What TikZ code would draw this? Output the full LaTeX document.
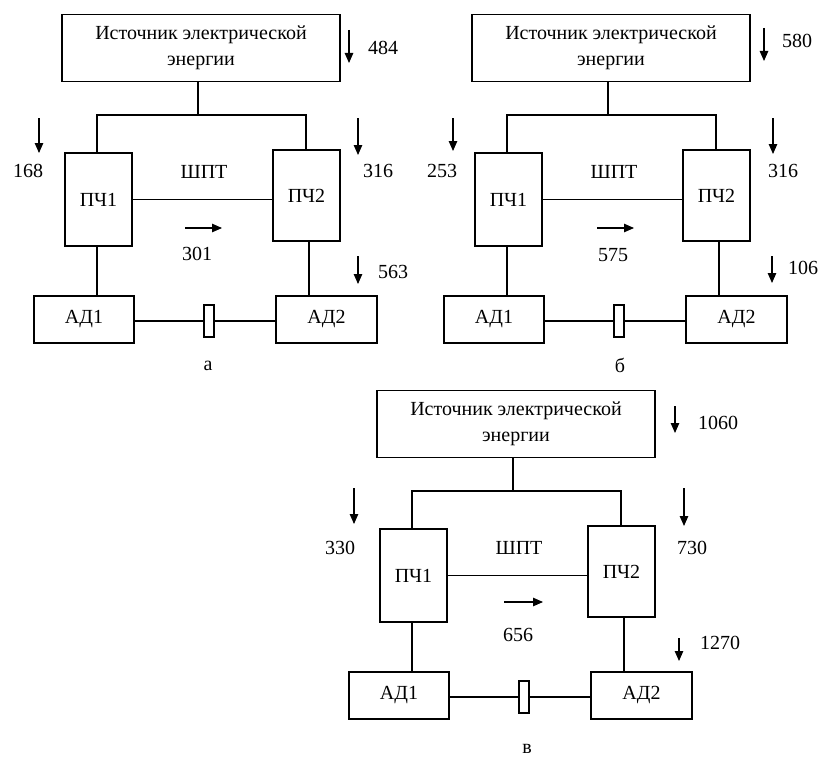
\documentclass[tikz,border=0pt]{standalone}
\usepackage{fontspec}
\setmainfont{Liberation Serif}
\usetikzlibrary{arrows.meta}

\tikzset{
  box/.style={draw, line width=1.4pt, inner sep=0pt, align=center,
    font=\fontsize{20}{26}\selectfont},
  wire/.style={line width=1.4pt},
  coupling/.style={draw, fill=white, line width=1.4pt, inner sep=0pt,
    minimum width=10pt, minimum height=32pt},
  flow/.style={line width=1.1pt, -{Triangle[length=10pt,width=8.5pt]}},
  val/.style={inner sep=0pt, font=\fontsize{20}{24}\selectfont},
}

% one block scheme: source, two converters on a DC bus, two motors on a shaft
\newcommand\drawscheme[2]{%
  \begin{scope}[shift={#1}]
    \node[box, minimum width=278pt, minimum height=67pt] (#2src) at (201,48)
      {Источник электрической\\энергии};
    \node[box, minimum width=67pt, minimum height=93pt] (#2pa) at (98.5,199.5) {ПЧ1};
    \node[box, minimum width=67pt, minimum height=91pt] (#2pb) at (306.5,195.5) {ПЧ2};
    \node[box, minimum width=100pt, minimum height=47pt] (#2ma) at (84,319.5) {АД1};
    \node[box, minimum width=101pt, minimum height=47pt] (#2mb) at (326.5,319.5) {АД2};
    \coordinate (#2tap) at (198,115);
    \coordinate (#2l) at (97,115);
    \coordinate (#2r) at (306,115);
    \coordinate (#2da) at (97,300);
    \coordinate (#2db) at (309,300);
    \coordinate (#2sh) at (209,321);
    \draw[wire] (#2src.south -| #2tap) -- (#2tap);
    \draw[wire] (#2l |- #2pa.north) -- (#2l) -- (#2r) -- (#2r |- #2pb.north);
    \draw[wire] (#2pa.east) -- (#2pa.east -| #2pb.west);
    \draw[wire] (#2pa.south -| #2da) -- (#2ma.north -| #2da);
    \draw[wire] (#2pb.south -| #2db) -- (#2mb.north -| #2db);
    \draw[wire] (#2ma.east |- #2sh) -- (#2mb.west |- #2sh);
    \node[coupling] (#2cp) at (#2sh) {};
    \node[val] (#2bus) at (204,172) {ШПТ};
  \end{scope}}

% power-flow arrow between two named points
\newcommand\flowarrow[3]{%
  \coordinate (#1s) at #2;
  \coordinate (#1e) at #3;
  \draw[flow] (#1s) -- (#1e);}

\begin{document}
\begin{tikzpicture}[x=1pt, y=-1pt]
  \useasboundingbox[fill=white] (0,0) rectangle (822,760);

  \drawscheme{(0,0)}{a}
  \drawscheme{(410,0)}{b}
  \drawscheme{(315,376)}{c}

  % scheme а
  \flowarrow{aw}{(349,30)}{(349,63)}   \node[val] (awv) at (383,48) {484};
  \flowarrow{al}{(39,118)}{(39,153)}   \node[val] (alv) at (28,171) {168};
  \flowarrow{ar}{(358,118)}{(358,155)} \node[val] (arv) at (378,171) {316};
  \flowarrow{ab}{(185,228)}{(222,228)} \node[val] (abv) at (197,254) {301};
  \flowarrow{am}{(358,256)}{(358,284)} \node[val] (amv) at (393,272) {563};
  \node[val] (acap) at (208,366) {а};

  % scheme б
  \flowarrow{bw}{(764,28)}{(764,61)}  \node[val] (bwv) at (797,41) {580};
  \flowarrow{bl}{(453,118)}{(453,151)} \node[val] (blv) at (442,171) {253};
  \flowarrow{br}{(773,118)}{(773,154)} \node[val] (brv) at (783,171) {316};
  \flowarrow{bb}{(597,228)}{(634,228)} \node[val] (bbv) at (613,255) {575};
  \flowarrow{bm}{(772,256)}{(772,283)} \node[val] (bmv) at (803,268) {106};
  \node[val] (bcap) at (620,365) {б};

  % scheme в
  \flowarrow{cw}{(675,406)}{(675,433)} \node[val] (cwv) at (718,423) {1060};
  \flowarrow{cl}{(354,488)}{(354,524)} \node[val] (clv) at (340,548) {330};
  \flowarrow{cr}{(684,488)}{(684,526)} \node[val] (crv) at (692,548) {730};
  \flowarrow{cb}{(504,602)}{(543,602)} \node[val] (cbv) at (518,635) {656};
  \flowarrow{cm}{(679,638)}{(679,661)} \node[val] (cmv) at (720,643) {1270};
  \node[val] (ccap) at (527,749) {в};
\end{tikzpicture}
\end{document}
